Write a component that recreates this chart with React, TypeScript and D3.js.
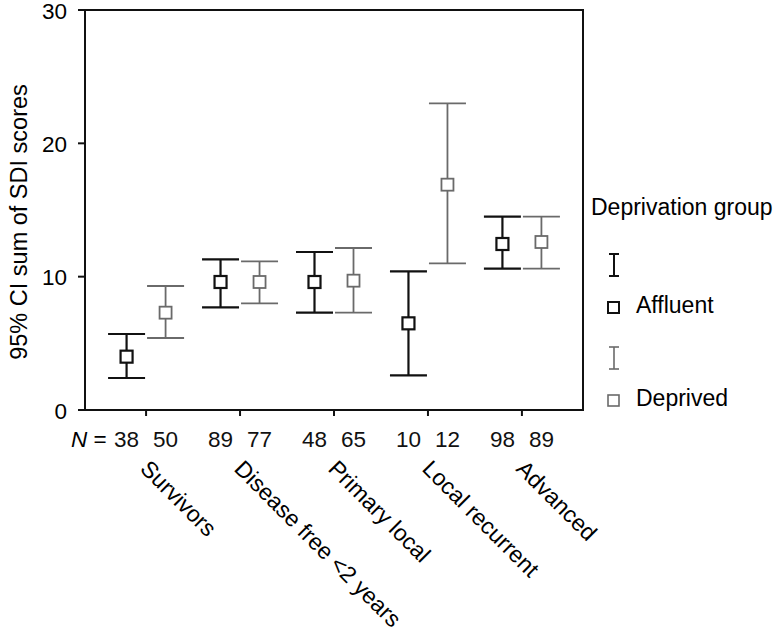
import React from 'react';
import * as d3 from 'd3';

const categories = ['Survivors', 'Disease free <2 years', 'Primary local', 'Local recurrent', 'Advanced'];
const groups = ['Affluent', 'Deprived'];

const affluentMean = [4.0, 9.6, 9.6, 6.5, 12.45];
const affluentLower = [2.4, 7.7, 7.3, 2.6, 10.6];
const affluentUpper = [5.7, 11.3, 11.85, 10.4, 14.5];
const affluentN = [38, 89, 48, 10, 98];

const deprivedMean = [7.3, 9.6, 9.7, 16.9, 12.6];
const deprivedLower = [5.4, 8.0, 7.3, 11.0, 10.6];
const deprivedUpper = [9.3, 11.15, 12.15, 23.0, 14.5];
const deprivedN = [50, 77, 65, 12, 89];

const yTicks = [0, 10, 20, 30];

const W = 776;
const H = 631;
const left = 85;
const right = 583;
const top = 10;
const bottom = 410;
const font = '"Liberation Sans", Arial, Helvetica, sans-serif';
const fs = 22.5;
const fsLabel = 23;

const colors: Record<string, string> = { Affluent: '#111', Deprived: '#6a6a6a' };
const widths: Record<string, number> = { Affluent: 2.2, Deprived: 1.8 };

const App: React.FC = () => {
  const y = d3.scaleLinear().domain([0, 30]).range([bottom, top]);
  const x = d3.scalePoint<string>().domain(categories).range([left, right]).padding(0.65);
  const off = d3.scalePoint<string>().domain(groups).range([-19.5, 19.5]);

  const series = [
    { g: 'Affluent', mean: affluentMean, lo: affluentLower, hi: affluentUpper, n: affluentN },
    { g: 'Deprived', mean: deprivedMean, lo: deprivedLower, hi: deprivedUpper, n: deprivedN },
  ];
  const cap = 18.5;
  const sq = 12;

  return (
    <svg width={W} height={H} style={{ position: 'absolute', left: 0, top: 0, background: '#fff' }} fontFamily={font}>
      {/* frame */}
      <rect x={left} y={top} width={right - left} height={bottom - top} fill="none" stroke="#111" strokeWidth={2} />

      {/* y axis ticks */}
      {yTicks.map((t) => (
        <g key={t}>
          <line x1={left - 7} x2={left} y1={y(t)} y2={y(t)} stroke="#111" strokeWidth={2} />
          <text x={67} y={y(t)} dy="0.38em" textAnchor="end" fontSize={fs}>{t}</text>
        </g>
      ))}
      <text transform={`translate(27, 222) rotate(-90)`} textAnchor="middle" fontSize={23.5}>
        95% CI sum of SDI scores
      </text>

      {/* x ticks and labels */}
      {categories.map((c) => (
        <g key={c}>
          <line x1={x(c)!} x2={x(c)!} y1={bottom} y2={bottom + 6} stroke="#111" strokeWidth={2} />
          <text transform={`translate(${x(c)! - 7}, ${bottom + 60}) rotate(45)`} fontSize={fsLabel}>{c}</text>
        </g>
      ))}
      <text x={71} y={447} fontSize={fs}>
        <tspan fontStyle="italic">N</tspan>
        <tspan> =</tspan>
      </text>

      {/* error bars */}
      {series.map((s) =>
        categories.map((c, i) => {
          const cx = x(c)! + off(s.g)!;
          const col = colors[s.g];
          const sw = widths[s.g];
          return (
            <g key={s.g + c} stroke={col} strokeWidth={sw} fill="none">
              <line x1={cx} x2={cx} y1={y(s.hi[i])} y2={y(s.lo[i])} />
              <line x1={cx - cap} x2={cx + cap} y1={y(s.hi[i])} y2={y(s.hi[i])} />
              <line x1={cx - cap} x2={cx + cap} y1={y(s.lo[i])} y2={y(s.lo[i])} />
              <rect x={cx - sq / 2} y={y(s.mean[i]) - sq / 2} width={sq} height={sq} fill="#fff" />
              <text x={cx} y={447} textAnchor="middle" fontSize={fs} fill="#111" stroke="none">{s.n[i]}</text>
            </g>
          );
        })
      )}

      {/* legend */}
      <text x={591} y={215} fontSize={fsLabel}>Deprivation group</text>
      {series.map((s, k) => {
        const base = 254 + k * 93;
        const col = colors[s.g];
        return (
          <g key={s.g}>
            <g stroke={col} strokeWidth={s.g === 'Affluent' ? 2 : 1.6}>
              <line x1={614} x2={614} y1={base} y2={base + 22} />
              <line x1={609} x2={619} y1={base} y2={base} />
              <line x1={609} x2={619} y1={base + 22} y2={base + 22} />
              <rect x={608} y={base + 48} width={11} height={11} fill="#fff" />
            </g>
            <text x={636} y={base + 59} fontSize={fsLabel}>{s.g}</text>
          </g>
        );
      })}
    </svg>
  );
};

export default App;
